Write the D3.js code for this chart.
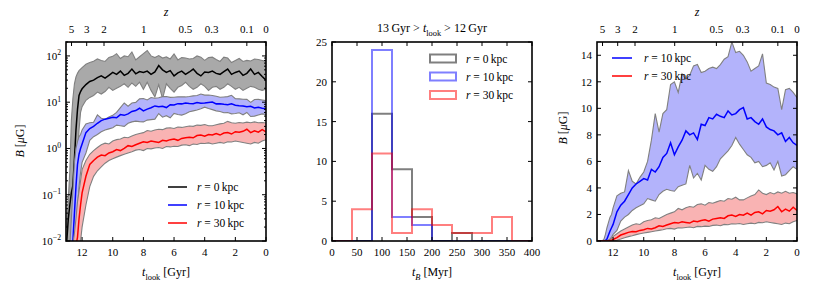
<!DOCTYPE html>
<html><head><meta charset="utf-8">
<script src="https://cdn.jsdelivr.net/npm/d3@7"></script>
<style>
body{margin:0;background:#fff}
svg, svg text, svg tspan{font-family:"Liberation Serif","Times New Roman",serif;fill:#000}
</style></head><body>
<svg id="c" width="830" height="291" font-family="Liberation Serif, serif"></svg>
<script>
// ---------- DATA ----------
const tLook = [13.0,12.9,12.8,12.7,12.6,12.5,12.4,12.3,12.2,12.1,12.0,11.75,11.5,11.25,11.0,10.75,10.5,10.25,10.0,9.75,9.5,9.25,9.0,8.75,8.5,8.25,8.0,7.75,7.5,7.25,7.0,6.75,6.5,6.25,6.0,5.75,5.5,5.25,5.0,4.75,4.5,4.25,4.0,3.75,3.5,3.25,3.0,2.75,2.5,2.25,2.0,1.75,1.5,1.25,1.0,0.75,0.5,0.25,0.0];

const b0Med = [0.01,0.03,0.06,0.11,0.16,0.6,2.5,7,14,17,19.5,24,28,30,34,37,33,38,44,40,47,38,42,52,41,46,44,47,40,45,62,50,44,48,37,43,47,40,45,52,42,37,45,44,47,42,40,46,52,40,44,47,38,42,52,40,44,36,30];
const b0Hi  = [0.02,0.08,0.33,4,12,25,35,42,48,52,56,66,72,77,86,80,76,93,98,112,88,100,96,122,82,96,112,131,100,92,102,90,95,86,110,82,92,90,86,88,100,94,80,92,94,84,76,94,90,72,80,88,76,80,78,86,84,80,76];
const b0Lo  = [0.001,0.002,0.004,0.006,0.008,0.012,0.1,0.6,2.5,6,8,11,12.7,14,16.5,15,17,21,18,20,22,25,21,26,22,27,19,27,18,13,24,12,25,20,16.5,21,23,27,22,19,21,25,22,18,21,22,19,21,25,22,19,21,18,20,22,21,19,18,19];

const b10Med = [0.0005,0.001,0.002,0.005,0.01,0.04,0.15,0.45,0.75,1.0,1.25,2.2,2.7,3.0,3.5,4.0,4.3,4.5,4.7,4.6,5.4,5.2,5.6,6.3,6.6,7.4,6.5,7.1,7.6,8.3,8.0,8.15,7.65,8.8,8.7,9.3,9.2,9.55,9.4,9.3,9.8,9.5,9.6,9.9,10.05,9.2,9.3,9.0,8.8,9.2,8.6,8.4,8.3,8.0,8.15,7.5,7.8,7.4,7.2];
const b10Hi  = [0.001,0.003,0.008,0.03,0.12,0.5,1.0,1.4,1.8,2.0,2.5,3.4,3.6,3.7,5.3,4.5,4.3,4.8,5.2,6.0,7.6,9.6,8.2,9.6,9.9,11.8,12.0,11.2,12.6,12.2,12.5,13.2,13.3,12.7,12.8,13.0,13.1,13.0,13.3,13.7,13.9,15.0,14.2,14.3,14.0,13.5,12.8,13.0,13.2,14.1,11.9,11.8,11.6,11.5,9.9,11.4,11.5,11.2,10.8];
const b10Lo  = [0.0002,0.0004,0.0008,0.0015,0.003,0.006,0.012,0.05,0.15,0.3,0.5,0.8,1.5,1.8,2.0,2.3,2.5,2.65,2.8,3.2,3.1,3.0,3.5,3.75,3.9,3.8,3.75,4.1,4.2,4.3,5.7,4.75,5.1,4.6,5.7,5.4,5.25,5.6,6.2,6.5,6.8,7.2,7.8,7.3,6.9,6.5,6.3,5.9,6.0,5.6,5.7,5.9,5.35,6.0,4.9,5.0,5.3,5.6,5.4];

const b30Med = [0.0002,0.0004,0.0008,0.0015,0.003,0.005,0.008,0.012,0.03,0.06,0.11,0.25,0.45,0.55,0.65,0.72,0.7,0.8,0.85,0.95,0.9,1.0,1.15,1.1,1.2,1.3,1.4,1.35,1.45,1.4,1.35,1.5,1.45,1.55,1.6,1.5,1.65,1.7,1.75,1.7,1.9,1.95,1.85,2.0,1.95,2.1,1.95,2.15,2.2,2.05,2.3,2.25,2.35,2.6,2.2,2.4,2.25,2.55,2.3];
const b30Hi  = [0.0005,0.001,0.002,0.004,0.008,0.015,0.03,0.07,0.12,0.2,0.35,0.55,0.75,0.9,1.05,1.2,1.3,1.25,1.45,1.55,1.6,1.75,1.7,1.85,2.0,2.1,2.2,2.45,2.35,2.5,2.6,2.55,2.75,2.8,2.7,2.9,2.85,2.95,3.05,3.0,3.2,3.15,3.3,3.1,3.1,3.25,3.4,3.5,3.85,3.6,3.5,3.65,3.55,3.7,3.6,3.75,3.6,3.65,3.55];
const b30Lo  = [0.00005,0.0001,0.0002,0.0004,0.0008,0.0015,0.003,0.005,0.008,0.01,0.02,0.06,0.15,0.25,0.33,0.4,0.48,0.55,0.6,0.65,0.7,0.75,0.8,0.85,0.92,0.95,0.9,1.0,0.98,1.02,1.05,1.0,1.1,1.08,1.12,1.1,1.18,1.2,1.15,1.25,1.22,1.3,1.28,1.32,1.25,1.3,1.35,1.3,1.4,1.38,1.45,1.4,1.35,1.3,1.25,1.35,1.3,1.45,1.55];

const zTickLabels = ["5","3","2","1","0.5","0.3","0.1","0"];
const zTickTlook  = [12.69,11.70,10.57,7.98,5.26,3.54,1.25,0];
const tTicks = [12,10,8,6,4,2,0];
const logTicks = [1e-2,1e-1,1e0,1e1,1e2];
const logExps = ["\u22122","\u22121","0","1","2"];
const linTicks = [0,2,4,6,8,10,12,14];

const histEdges = [0,40,80,120,160,200,240,280,320,360,400];
const hist0  = [0,0,16,9,3,0,1,0,0,0];
const hist10 = [0,0,24,3,2,0,0,0,0,0];
const hist30 = [0,4,11,1,4,2,1,1,3,0];
const histXTicks = [0,50,100,150,200,250,300,350,400];
const histYTicks = [0,5,10,15,20,25];

const legendLabels = ["0","10","30"];

// ---------- STYLE / LAYOUT ----------
const FONT = "Liberation Serif, Times New Roman, serif";
const svg = d3.select("#c");
const T = 42, Bt = 241;
const panels = {left:[66,266], mid:[332,532], right:[597,797]};
const TICK = 11, MAJ = 4, MIN = 2;
const colMed = {k:"#000000", b:"#0000ff", r:"#ff0000"};
const colFill = {k:"#a9a9a9", b:"#b3b3fb", r:"#f9b3b3"};

function txt(g, x, y, s, size, anchor){
  return g.append("text").attr("x",x).attr("y",y).attr("text-anchor",anchor||"middle")
    .attr("font-family",FONT).style("font-size",size+"px").text(s);
}
function rich(g, x, y, parts, size, anchor, rot){
  const t = g.append("text").attr("x",x).attr("y",y).attr("font-family",FONT)
    .attr("text-anchor", anchor||"middle").style("font-size", size+"px");
  if(rot) t.attr("transform",`rotate(${rot},${x},${y})`);
  let shift = 0;
  parts.forEach(p=>{
    const ts = t.append("tspan").text(p.t);
    if(p.i) ts.style("font-style","italic");
    const target = p.sub ? size*0.3 : (p.sup ? -size*0.42 : 0);
    if(target !== shift){ ts.attr("dy", target-shift); shift = target; }
    if(p.sub||p.sup) ts.style("font-size",(size*0.7)+"px");
  });
  return t;
}

function frame(g, L, R){
  g.append("rect").attr("x",L).attr("y",T).attr("width",R-L).attr("height",Bt-T)
   .attr("fill","none").attr("stroke","#000").attr("stroke-width",1.6);
}
function ticksX(g, x, vals, len, side){
  vals.forEach(v=>{
    const px = x(v);
    if(side==="bottom") g.append("line").attr("x1",px).attr("x2",px).attr("y1",Bt).attr("y2",Bt-len);
    else g.append("line").attr("x1",px).attr("x2",px).attr("y1",T).attr("y2",T+len);
  });
}
function ticksY(g, y, vals, len, L, R){
  vals.forEach(v=>{
    const py = y(v);
    g.append("line").attr("x1",L).attr("x2",L+len).attr("y1",py).attr("y2",py);
    g.append("line").attr("x1",R).attr("x2",R-len).attr("y1",py).attr("y2",py);
  });
}
function timeAxes(g, L, R, x){
  const tg = g.append("g").attr("stroke","#000").attr("stroke-width",1);
  ticksX(tg, x, tTicks, MAJ, "bottom");
  ticksX(tg, x, zTickTlook, MAJ, "top");
  tTicks.forEach(v=>txt(g,x(v),Bt+15,v,TICK));
  zTickTlook.forEach((v,i)=>txt(g,x(v),T-9,zTickLabels[i],TICK));
  rich(g,(L+R)/2,16,[{t:"z",i:true}],12);
  rich(g,(L+R)/2,276,[{t:"t",i:true},{t:"look",sub:true},{t:" [Gyr]"}],12);
}
function bandSeries(g, x, y, lo, med, hi, key, clipId){
  const gg = g.append("g").attr("clip-path",`url(#${clipId})`);
  const area = d3.area().x((d,i)=>x(tLook[i])).y0((d,i)=>y(lo[i])).y1((d,i)=>y(hi[i]));
  const line = arr => d3.line().x((d,i)=>x(tLook[i])).y((d,i)=>y(arr[i]))(arr);
  gg.append("path").attr("d",area(tLook)).attr("fill",colFill[key]).attr("stroke","none");
  [lo,hi].forEach(a=>gg.append("path").attr("d",line(a)).attr("fill","none")
     .attr("stroke","#808080").attr("stroke-width",1.1));
  gg.append("path").attr("d",line(med)).attr("fill","none").attr("stroke",colMed[key]).attr("stroke-width",1.5);
}

const defs = svg.append("defs");
Object.entries(panels).forEach(([k,[L,R]])=>{
  defs.append("clipPath").attr("id","clip-"+k).append("rect")
    .attr("x",L).attr("y",T).attr("width",R-L).attr("height",Bt-T);
});

// ---------- LEFT PANEL ----------
{
  const [L,R] = panels.left;
  const g = svg.append("g");
  const x = d3.scaleLinear().domain([13.05,0]).range([L,R]);
  const y = d3.scaleLog().domain([1e-2,2e2]).range([Bt,T]);
  bandSeries(g,x,y,b0Lo,b0Med,b0Hi,"k","clip-left");
  bandSeries(g,x,y,b10Lo,b10Med,b10Hi,"b","clip-left");
  bandSeries(g,x,y,b30Lo,b30Med,b30Hi,"r","clip-left");
  const tg = g.append("g").attr("stroke","#000").attr("stroke-width",1);
  ticksY(tg,y,logTicks,MAJ,L,R);
  const minors = [];
  logTicks.forEach(d=>{ for(let m=2;m<=9;m++){ const v=d*m; if(v<=2e2) minors.push(v);} });
  ticksY(tg,y,minors,MIN,L,R);
  logTicks.forEach((v,i)=>rich(g,L-5,y(v)+4,[{t:"10"},{t:logExps[i],sup:true}],11,"end"));
  rich(g,24,141,[{t:"B",i:true},{t:" ["},{t:"\u03bc",i:true},{t:"G]"}],12,"middle",-90);
  timeAxes(g,L,R,x);
  frame(g,L,R);
  const keys=["k","b","r"];
  [187,205,223].forEach((yy,i)=>{
    g.append("line").attr("x1",168).attr("x2",187).attr("y1",yy).attr("y2",yy)
     .attr("stroke",colMed[keys[i]]).attr("stroke-width",1.5);
    rich(g,197,yy+4,[{t:"r",i:true},{t:" = "+legendLabels[i]+"\u2009kpc"}],11.5,"start");
  });
}

// ---------- MIDDLE PANEL ----------
{
  const [L,R] = panels.mid;
  const g = svg.append("g");
  const x = d3.scaleLinear().domain([0,400]).range([L,R]);
  const y = d3.scaleLinear().domain([0,25]).range([Bt,T]);
  const strokes = ["rgba(0,0,0,0.5)","rgba(0,0,255,0.5)","rgba(255,0,0,0.5)"];
  const hg = g.append("g").attr("clip-path","url(#clip-mid)");
  [hist0,hist10,hist30].forEach((h,k)=>{
    const pts = [[histEdges[0],0]];
    h.forEach((c,i)=>{ pts.push([histEdges[i],c]); pts.push([histEdges[i+1],c]); });
    pts.push([histEdges[histEdges.length-1],0]);
    const line = d3.line().x(d=>x(d[0])).y(d=>y(d[1]));
    hg.append("path").attr("d",line(pts)).attr("fill","none").attr("stroke",strokes[k])
      .attr("stroke-width",2).attr("stroke-linejoin","miter");
  });
  const tg = g.append("g").attr("stroke","#000").attr("stroke-width",1);
  ticksX(tg,x,histXTicks,MAJ,"bottom");
  ticksX(tg,x,histXTicks,MAJ,"top");
  ticksY(tg,y,histYTicks,MAJ,L,R);
  histXTicks.forEach(v=>txt(g,x(v),Bt+15,v,TICK));
  histYTicks.forEach(v=>txt(g,L-5,y(v)+4,v,TICK,"end"));
  frame(g,L,R);
  rich(g,(L+R)/2,32,[{t:"13\u2009Gyr > "},{t:"t",i:true},{t:"look",sub:true},{t:" > 12\u2009Gyr"}],12);
  rich(g,(L+R)/2,276,[{t:"t",i:true},{t:"B",sub:true,i:true},{t:" [Myr]"}],12);
  [58.5,76.5,95].forEach((yy,i)=>{
    g.append("rect").attr("x",430).attr("y",yy-4).attr("width",26).attr("height",8)
     .attr("fill","none").attr("stroke",strokes[i]).attr("stroke-width",2);
    rich(g,466,yy+4,[{t:"r",i:true},{t:" = "+legendLabels[i]+"\u2009kpc"}],11.5,"start");
  });
}

// ---------- RIGHT PANEL ----------
{
  const [L,R] = panels.right;
  const g = svg.append("g");
  const x = d3.scaleLinear().domain([13.05,0]).range([L,R]);
  const y = d3.scaleLinear().domain([0,15]).range([Bt,T]);
  bandSeries(g,x,y,b10Lo,b10Med,b10Hi,"b","clip-right");
  bandSeries(g,x,y,b30Lo,b30Med,b30Hi,"r","clip-right");
  const tg = g.append("g").attr("stroke","#000").attr("stroke-width",1);
  ticksY(tg,y,linTicks,MAJ,L,R);
  linTicks.forEach(v=>txt(g,L-5,y(v)+4,v,TICK,"end"));
  rich(g,567,128,[{t:"B",i:true},{t:" ["},{t:"\u03bc",i:true},{t:"G]"}],12,"middle",-90);
  timeAxes(g,L,R,x);
  frame(g,L,R);
  const keys=["b","r"];
  [58,76].forEach((yy,i)=>{
    g.append("line").attr("x1",612).attr("x2",632).attr("y1",yy).attr("y2",yy)
     .attr("stroke",colMed[keys[i]]).attr("stroke-width",1.5);
    rich(g,644,yy+4,[{t:"r",i:true},{t:" = "+legendLabels[i+1]+"\u2009kpc"}],11.5,"start");
  });
}
</script>
</body></html>
